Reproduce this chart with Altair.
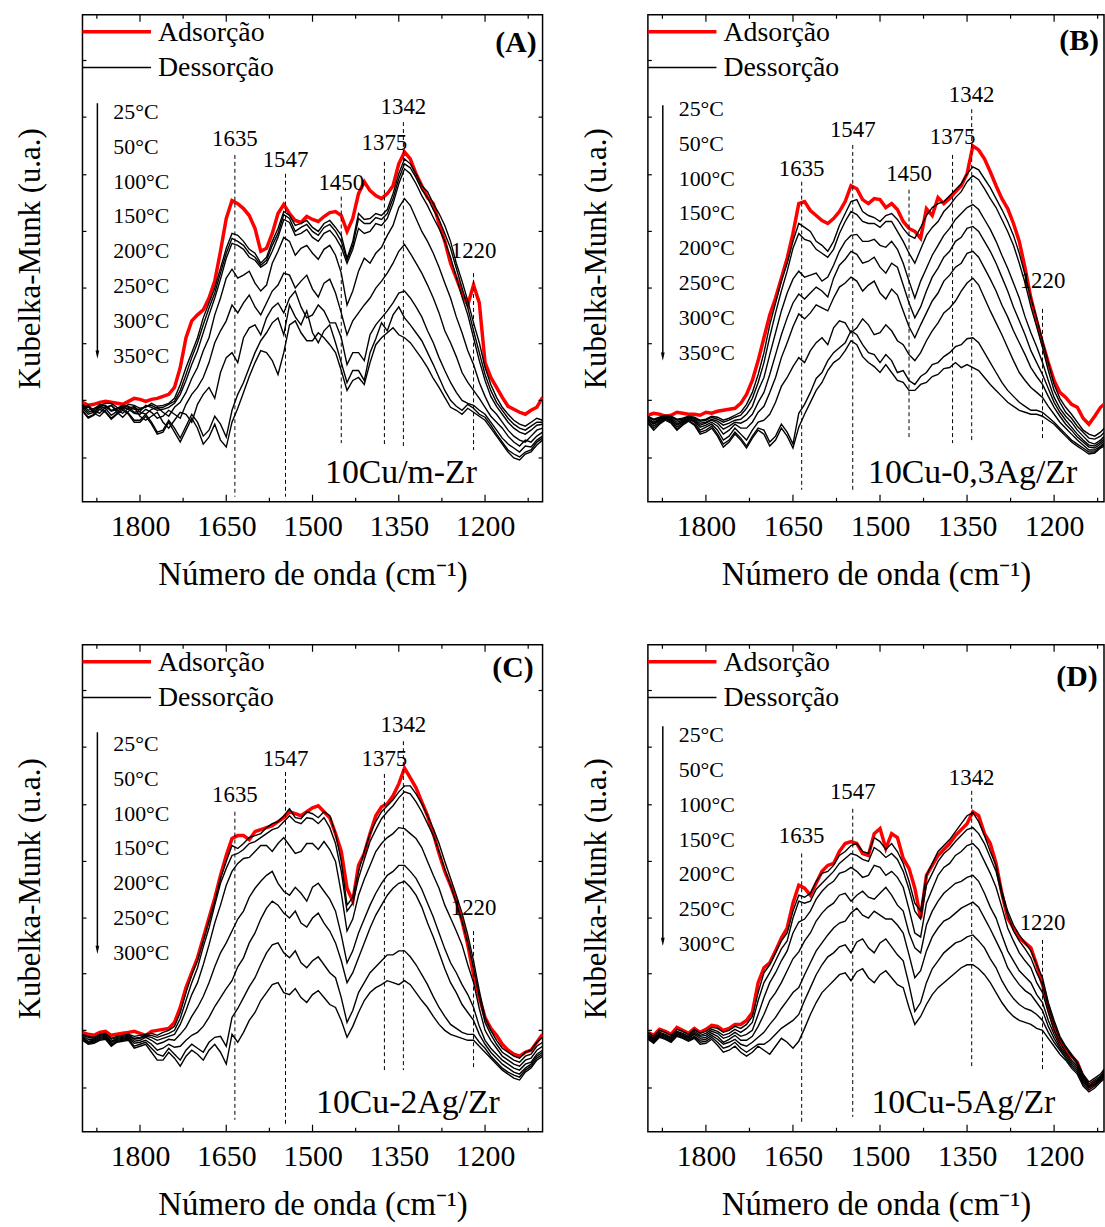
import altair as alt
import pandas as pd

FONT = "Liberation Serif"

# ---- data -------------------------------------------------------------
# Spectra are read every 10 cm-1: the values at 1900, 1880, ... 1100 ("main")
# and the values read in between at 1890, 1870, ... 1110 ("mid").
WN = [1900, 1890, 1880, 1870, 1860, 1850, 1840, 1830, 1820, 1810, 1800, 1790, 1780, 1770,
      1760, 1750, 1740, 1730, 1720, 1710, 1700, 1690, 1680, 1670, 1660, 1650, 1640, 1630,
      1620, 1610, 1600, 1590, 1580, 1570, 1560, 1550, 1540, 1530, 1520, 1510, 1500, 1490,
      1480, 1470, 1460, 1450, 1440, 1430, 1420, 1410, 1400, 1390, 1380, 1370, 1360, 1350,
      1340, 1330, 1320, 1310, 1300, 1290, 1280, 1270, 1260, 1250, 1240, 1230, 1220, 1210,
      1200, 1190, 1180, 1170, 1160, 1150, 1140, 1130, 1120, 1110, 1100]

TEMPS_AB = ["25°C", "50°C", "100°C", "150°C", "200°C", "250°C", "300°C", "350°C"]
TEMPS_CD = ["25°C", "50°C", "100°C", "150°C", "200°C", "250°C", "300°C"]

X_LABELS = [1800, 1650, 1500, 1350, 1200]
X_MINOR = [1875, 1725, 1575, 1425, 1275, 1125]
Y_TICKS = [44, 102, 159, 215, 272, 329, 387, 444]


def spectrum(main, mid):
    assert len(main) == 41 and len(mid) == 40
    out = []
    for i in range(40):
        out += [main[i], mid[i]]
    return out + [main[40]]


# Panel A : 10Cu/m-Zr
A_ADS = spectrum(
    [100, 98, 101, 99, 101, 103, 103, 106, 115, 165, 188, 205, 252, 303, 295, 275, 255, 290, 290, 281, 284,
     287, 292, 272, 310, 313, 305, 318, 352, 330, 306, 280, 240, 210, 218, 140, 115, 96, 90, 92, 105],
    [97, 100, 100, 98, 104, 101, 104, 108, 135, 182, 193, 222, 285, 300, 288, 252, 270, 299, 283, 287,
     282, 291, 288, 285, 322, 308, 310, 340, 345, 318, 300, 262, 225, 198, 200, 125, 105, 93, 88, 95])
A_DES = [
    spectrum([98, 94, 99, 95, 98, 94, 99, 97, 104, 135, 165, 200, 235, 270, 262, 250, 246, 275, 288, 280, 276,
              280, 276, 245, 290, 285, 288, 310, 345, 330, 312, 290, 262, 222, 180, 135, 105, 88, 78, 80, 82],
             [92, 97, 99, 93, 97, 95, 96, 99, 118, 150, 185, 215, 255, 268, 254, 240, 262, 292, 278, 283,
              272, 283, 268, 262, 284, 290, 294, 330, 340, 318, 300, 278, 240, 202, 160, 118, 95, 82, 76, 84]),
    spectrum([97, 93, 97, 94, 96, 93, 97, 95, 101, 128, 160, 195, 230, 265, 258, 246, 243, 270, 285, 276, 272,
              276, 272, 243, 285, 280, 284, 305, 340, 326, 306, 284, 255, 215, 172, 128, 100, 84, 74, 76, 80],
             [95, 96, 92, 97, 93, 96, 94, 98, 112, 145, 178, 210, 250, 262, 250, 238, 258, 289, 272, 279,
              268, 279, 262, 258, 280, 286, 290, 325, 336, 314, 294, 270, 235, 195, 150, 112, 92, 78, 72, 80]),
    spectrum([96, 92, 96, 93, 95, 91, 95, 93, 99, 122, 152, 188, 224, 260, 254, 243, 240, 266, 281, 270, 266,
              270, 266, 240, 275, 272, 278, 300, 335, 320, 298, 275, 246, 206, 165, 122, 96, 80, 70, 72, 78],
             [90, 98, 91, 96, 90, 97, 92, 95, 108, 138, 170, 205, 245, 258, 246, 236, 252, 284, 268, 274,
              262, 273, 256, 254, 270, 280, 285, 320, 330, 308, 286, 262, 226, 188, 142, 106, 88, 74, 68, 77]),
    spectrum([95, 91, 95, 92, 94, 90, 93, 90, 95, 110, 135, 165, 205, 234, 228, 220, 218, 252, 262, 255, 250,
              254, 248, 198, 232, 240, 256, 278, 305, 285, 262, 236, 205, 170, 138, 106, 88, 72, 62, 66, 74],
             [97, 89, 97, 89, 96, 88, 95, 86, 100, 124, 152, 188, 225, 225, 232, 212, 240, 266, 248, 258,
              244, 258, 230, 212, 245, 250, 268, 296, 298, 272, 250, 220, 186, 152, 120, 94, 80, 66, 60, 72]),
    spectrum([94, 90, 94, 91, 93, 88, 90, 86, 88, 98, 115, 140, 172, 198, 200, 196, 200, 218, 228, 222, 214,
              220, 210, 168, 190, 205, 222, 240, 259, 240, 218, 190, 160, 130, 112, 95, 80, 66, 56, 60, 70],
             [88, 96, 87, 95, 89, 93, 84, 92, 84, 108, 125, 160, 182, 190, 208, 188, 212, 230, 215, 228,
              206, 224, 190, 182, 198, 215, 230, 252, 250, 230, 205, 172, 146, 120, 104, 86, 74, 60, 62, 66]),
    spectrum([93, 89, 92, 90, 91, 86, 86, 80, 82, 88, 98, 115, 130, 150, 165, 178, 185, 200, 205, 196, 188,
              192, 180, 138, 150, 168, 185, 200, 212, 196, 172, 145, 120, 102, 97, 88, 72, 58, 50, 55, 66],
             [96, 86, 97, 85, 95, 82, 90, 74, 90, 80, 108, 104, 145, 140, 175, 168, 195, 190, 212, 185,
              198, 180, 165, 150, 142, 178, 192, 210, 205, 186, 160, 132, 110, 99, 92, 80, 64, 54, 56, 62]),
    spectrum([92, 88, 91, 89, 89, 82, 80, 72, 74, 76, 80, 72, 78, 92, 120, 150, 170, 185, 198, 178, 170,
              172, 160, 120, 132, 150, 180, 188, 185, 170, 150, 125, 102, 92, 94, 85, 68, 52, 45, 52, 64],
             [85, 95, 84, 94, 82, 88, 70, 82, 64, 88, 66, 86, 65, 108, 135, 162, 180, 168, 186, 192,
              160, 178, 140, 132, 122, 164, 172, 196, 178, 162, 138, 112, 96, 98, 88, 77, 60, 48, 50, 60]),
    spectrum([91, 87, 90, 88, 88, 80, 78, 70, 70, 72, 74, 65, 62, 80, 110, 140, 150, 128, 178, 170, 162,
              165, 150, 112, 125, 140, 165, 175, 165, 152, 135, 115, 95, 88, 90, 82, 66, 50, 42, 50, 62],
             [84, 93, 83, 92, 80, 86, 68, 80, 60, 84, 58, 78, 55, 94, 126, 152, 142, 150, 182, 162,
              170, 158, 132, 122, 118, 158, 170, 168, 160, 144, 124, 105, 92, 94, 86, 74, 58, 44, 48, 57]),
]
A_PEAKS = [1635, 1547, 1450, 1375, 1342, 1220]
A_PEAK_LABEL = [365, 344, 321, 361, 397, 252]
A_PEAK_TOP = [349, 330, 307, 342, 382, 230]
A_PEAK_BOTTOM = [5, 5, 59, 55, 55, 52]

# Panel B : 10Cu-0,3Ag/Zr
B_ADS = spectrum(
    [87, 88, 87, 89, 88, 90, 91, 93, 99, 122, 165, 205, 245, 300, 293, 283, 285, 302, 315, 300, 304,
     300, 282, 272, 295, 306, 305, 318, 358, 345, 318, 295, 262, 205, 160, 122, 105, 95, 78, 95, 102],
    [89, 86, 90, 88, 87, 89, 92, 94, 108, 142, 188, 225, 270, 302, 288, 280, 292, 318, 304, 305,
     296, 294, 275, 265, 288, 300, 312, 330, 354, 332, 305, 280, 235, 182, 140, 110, 98, 84, 86, 100])
B_DES = [
    spectrum([86, 85, 86, 84, 85, 83, 85, 84, 90, 110, 150, 200, 240, 280, 272, 258, 262, 290, 304, 288, 282,
              290, 275, 265, 288, 300, 308, 320, 337, 325, 305, 282, 250, 205, 162, 118, 95, 80, 68, 70, 80],
             [83, 87, 83, 86, 82, 86, 82, 87, 98, 128, 178, 222, 262, 276, 262, 252, 278, 302, 292, 286,
              288, 284, 268, 276, 296, 302, 314, 330, 334, 316, 294, 268, 228, 185, 140, 104, 88, 72, 66, 76]),
    spectrum([85, 84, 85, 83, 84, 82, 83, 82, 87, 104, 140, 190, 232, 270, 262, 250, 254, 282, 289, 280, 276,
              282, 262, 240, 268, 282, 298, 312, 328, 315, 296, 272, 240, 196, 155, 112, 90, 76, 64, 66, 76],
             [82, 86, 82, 85, 81, 85, 80, 85, 94, 120, 166, 212, 255, 264, 254, 246, 270, 292, 282, 280,
              282, 272, 250, 254, 276, 292, 306, 322, 324, 305, 284, 258, 220, 176, 132, 100, 84, 70, 63, 72]),
    spectrum([84, 83, 84, 82, 83, 80, 81, 79, 83, 96, 125, 170, 210, 232, 228, 222, 238, 262, 269, 262, 258,
              262, 240, 205, 235, 258, 275, 290, 299, 284, 262, 235, 205, 170, 140, 105, 86, 72, 60, 62, 72],
             [80, 85, 80, 84, 79, 83, 77, 82, 88, 112, 148, 192, 224, 226, 230, 226, 252, 268, 262, 264,
              256, 254, 222, 222, 248, 268, 284, 296, 294, 274, 248, 220, 186, 156, 122, 94, 80, 66, 58, 68]),
    spectrum([83, 82, 83, 81, 82, 79, 79, 76, 79, 88, 110, 148, 185, 209, 210, 212, 225, 244, 249, 242, 236,
              240, 218, 185, 212, 235, 252, 266, 277, 262, 240, 212, 182, 152, 128, 100, 82, 68, 57, 60, 70],
             [79, 84, 78, 83, 77, 82, 73, 80, 82, 100, 128, 168, 200, 204, 216, 206, 238, 252, 240, 246,
              230, 236, 200, 196, 226, 246, 262, 275, 272, 252, 226, 196, 168, 140, 114, 90, 75, 62, 56, 65]),
    spectrum([82, 81, 82, 80, 81, 77, 76, 72, 74, 80, 96, 125, 160, 189, 190, 195, 205, 220, 222, 218, 210,
              214, 192, 165, 190, 210, 228, 240, 252, 235, 212, 186, 160, 135, 118, 95, 78, 65, 55, 58, 68],
             [78, 84, 77, 83, 75, 80, 68, 78, 74, 90, 110, 145, 176, 184, 198, 192, 216, 226, 212, 222,
              204, 208, 176, 178, 202, 222, 236, 250, 246, 224, 198, 172, 148, 126, 106, 86, 72, 60, 54, 63]),
    spectrum([81, 80, 81, 79, 80, 75, 72, 66, 68, 72, 82, 100, 125, 145, 152, 165, 175, 180, 175, 178, 170,
              172, 158, 142, 162, 180, 195, 212, 225, 205, 180, 155, 130, 115, 105, 88, 74, 62, 52, 56, 66],
             [76, 84, 75, 83, 72, 78, 62, 74, 62, 80, 88, 116, 136, 140, 160, 158, 182, 170, 184, 168,
              178, 162, 148, 150, 172, 190, 202, 220, 218, 192, 168, 142, 122, 110, 96, 80, 68, 57, 52, 61]),
    spectrum([80, 79, 80, 78, 78, 72, 68, 62, 64, 66, 72, 66, 70, 89, 110, 130, 150, 160, 168, 150, 140,
              142, 132, 118, 130, 140, 150, 158, 165, 150, 130, 112, 100, 92, 90, 80, 68, 58, 50, 55, 64],
             [74, 83, 73, 82, 70, 76, 58, 70, 56, 74, 60, 78, 58, 98, 124, 142, 155, 172, 158, 148,
              148, 130, 122, 126, 138, 146, 156, 164, 160, 140, 120, 106, 96, 92, 85, 74, 62, 54, 50, 59]),
    spectrum([79, 78, 79, 77, 77, 70, 66, 60, 62, 64, 68, 62, 66, 75, 100, 120, 140, 152, 158, 140, 130,
              130, 120, 112, 120, 128, 135, 135, 135, 125, 112, 100, 92, 88, 86, 78, 66, 56, 48, 54, 62],
             [72, 82, 72, 81, 68, 74, 55, 68, 54, 72, 56, 74, 54, 88, 112, 132, 144, 162, 146, 136,
              138, 122, 112, 118, 126, 134, 140, 138, 132, 118, 106, 96, 90, 88, 82, 72, 60, 52, 49, 57]),
]
B_PEAKS = [1635, 1547, 1450, 1375, 1342, 1220]
B_PEAK_LABEL = [335, 374, 330, 367, 409, 222]
B_PEAK_TOP = [322, 359, 314, 349, 395, 194]
B_PEAK_BOTTOM = [12, 12, 64, 59, 59, 62]

# Panel C : 10Cu-2Ag/Zr
C_ADS = spectrum(
    [100, 97, 101, 98, 100, 99, 101, 103, 110, 145, 175, 215, 258, 295, 298, 302, 306, 312, 322, 318, 326,
     322, 300, 245, 268, 300, 327, 338, 366, 346, 318, 280, 248, 212, 158, 115, 97, 82, 76, 82, 98],
    [98, 100, 97, 99, 101, 97, 102, 104, 125, 160, 195, 235, 278, 298, 294, 304, 308, 316, 320, 322,
     328, 316, 282, 232, 280, 318, 330, 350, 356, 332, 300, 262, 232, 188, 135, 104, 88, 78, 80, 90])
C_DES = [
    spectrum([98, 95, 99, 96, 98, 97, 99, 100, 106, 140, 172, 212, 255, 288, 290, 298, 306, 312, 325, 315, 320,
              322, 300, 228, 262, 300, 322, 334, 348, 340, 318, 290, 255, 220, 172, 115, 92, 80, 74, 82, 95],
             [96, 98, 94, 97, 96, 98, 97, 102, 120, 158, 192, 232, 272, 285, 296, 300, 310, 318, 316, 322,
              316, 318, 272, 236, 282, 312, 328, 342, 348, 330, 305, 272, 238, 198, 142, 102, 84, 76, 80, 90]),
    spectrum([97, 94, 98, 95, 97, 95, 97, 97, 102, 132, 165, 205, 250, 278, 284, 292, 300, 306, 318, 310, 315,
              316, 290, 222, 255, 292, 315, 328, 342, 332, 310, 282, 248, 212, 165, 110, 88, 76, 70, 78, 90],
             [95, 97, 93, 96, 94, 97, 95, 99, 114, 150, 186, 228, 265, 280, 290, 296, 304, 312, 312, 316,
              310, 306, 262, 230, 274, 304, 322, 336, 340, 322, 298, 264, 230, 190, 136, 98, 80, 72, 76, 86]),
    spectrum([96, 93, 97, 94, 96, 94, 95, 94, 98, 122, 150, 188, 228, 262, 275, 282, 288, 290, 288, 282, 290,
              292, 272, 202, 238, 268, 290, 300, 305, 295, 272, 245, 215, 188, 150, 102, 84, 72, 66, 74, 86],
             [93, 96, 91, 95, 93, 96, 92, 96, 108, 138, 168, 210, 248, 270, 276, 288, 282, 296, 280, 290,
              284, 284, 240, 214, 254, 282, 296, 306, 300, 286, 258, 228, 202, 168, 124, 92, 76, 68, 72, 82]),
    spectrum([95, 92, 96, 93, 95, 92, 92, 90, 92, 105, 125, 150, 180, 202, 222, 245, 258, 250, 238, 240, 246,
              242, 222, 170, 200, 228, 250, 262, 268, 255, 230, 200, 170, 148, 125, 92, 78, 68, 62, 70, 82],
             [91, 95, 90, 94, 91, 95, 88, 93, 98, 116, 136, 166, 190, 214, 236, 252, 262, 242, 246, 232,
              250, 234, 198, 182, 214, 240, 258, 268, 262, 244, 216, 184, 160, 138, 106, 84, 72, 64, 68, 78]),
    spectrum([94, 91, 95, 92, 94, 90, 88, 84, 85, 92, 100, 115, 135, 152, 175, 200, 225, 228, 215, 210, 215,
              210, 190, 150, 175, 205, 228, 245, 252, 238, 210, 180, 150, 128, 112, 88, 74, 64, 58, 68, 80],
             [90, 94, 88, 93, 89, 92, 82, 88, 86, 97, 106, 126, 144, 166, 190, 214, 232, 220, 222, 206,
              220, 202, 172, 160, 190, 218, 238, 250, 246, 226, 196, 164, 140, 120, 98, 80, 68, 60, 64, 76]),
    spectrum([93, 90, 94, 91, 93, 88, 84, 76, 78, 82, 84, 90, 96, 115, 135, 155, 180, 190, 175, 170, 172,
              168, 155, 110, 140, 160, 172, 178, 182, 168, 148, 125, 108, 100, 98, 84, 70, 60, 55, 66, 78],
             [89, 93, 87, 92, 86, 90, 78, 84, 72, 88, 80, 95, 86, 124, 146, 168, 188, 180, 182, 165,
              176, 160, 135, 122, 150, 166, 178, 182, 176, 158, 136, 116, 104, 98, 90, 76, 64, 57, 62, 74]),
    spectrum([92, 89, 93, 90, 92, 86, 80, 72, 74, 76, 78, 82, 80, 98, 100, 120, 140, 150, 138, 135, 138,
              135, 125, 95, 120, 140, 148, 150, 152, 140, 125, 108, 98, 94, 92, 80, 68, 58, 52, 64, 76],
             [88, 92, 86, 91, 84, 88, 72, 80, 66, 82, 72, 88, 68, 90, 112, 132, 148, 140, 144, 130,
              142, 128, 112, 106, 132, 145, 152, 148, 148, 132, 116, 102, 96, 92, 86, 74, 62, 54, 60, 72]),
]
C_PEAKS = [1635, 1547, 1375, 1342, 1220]
C_PEAK_LABEL = [339, 375, 375, 409, 225]
C_PEAK_TOP = [322, 362, 360, 393, 202]
C_PEAK_BOTTOM = [12, 5, 62, 62, 62]

# Panel D : 10Cu-5Ag/Zr
D_ADS = spectrum(
    [100, 103, 98, 102, 104, 103, 106, 104, 108, 120, 165, 182, 205, 248, 238, 262, 270, 290, 290, 278, 305,
     300, 275, 245, 258, 278, 290, 304, 322, 300, 270, 215, 195, 185, 148, 105, 82, 70, 45, 52, 72],
    [97, 101, 105, 99, 100, 107, 102, 108, 112, 150, 170, 195, 230, 245, 250, 268, 282, 292, 280, 300,
     285, 296, 265, 215, 268, 284, 298, 310, 318, 290, 240, 205, 190, 168, 125, 90, 76, 55, 50, 62])
D_DES = [
    spectrum([100, 102, 97, 101, 103, 101, 104, 102, 104, 116, 160, 180, 200, 238, 240, 260, 268, 282, 290, 280, 292,
              290, 270, 230, 258, 282, 294, 310, 321, 298, 268, 222, 198, 182, 155, 112, 86, 70, 50, 58, 72],
             [96, 100, 103, 98, 99, 105, 100, 106, 108, 140, 168, 192, 222, 236, 252, 262, 278, 288, 282, 296,
              284, 282, 252, 222, 270, 288, 302, 318, 312, 282, 242, 208, 190, 168, 130, 96, 78, 58, 54, 66]),
    spectrum([98, 100, 95, 99, 101, 99, 101, 99, 100, 110, 150, 172, 192, 232, 232, 250, 262, 275, 278, 272, 282,
              280, 262, 222, 248, 272, 285, 298, 306, 290, 262, 218, 192, 175, 148, 108, 84, 68, 48, 56, 70],
             [94, 98, 101, 96, 97, 103, 97, 103, 104, 132, 160, 184, 215, 230, 244, 256, 270, 280, 274, 286,
              276, 274, 244, 214, 260, 280, 292, 304, 300, 276, 238, 202, 184, 160, 126, 94, 76, 56, 52, 64]),
    spectrum([97, 99, 94, 98, 99, 97, 99, 96, 96, 102, 135, 160, 182, 211, 222, 242, 252, 262, 262, 258, 266,
              262, 246, 200, 230, 258, 270, 282, 290, 272, 246, 205, 180, 165, 140, 102, 80, 66, 46, 55, 68],
             [93, 97, 100, 95, 96, 101, 94, 100, 98, 118, 150, 172, 200, 214, 234, 248, 260, 266, 256, 268,
              258, 256, 224, 196, 244, 266, 278, 288, 284, 260, 226, 192, 172, 150, 120, 90, 72, 54, 50, 62]),
    spectrum([96, 98, 93, 97, 98, 95, 96, 93, 92, 96, 118, 140, 162, 181, 200, 220, 230, 240, 238, 236, 240,
              238, 222, 185, 208, 232, 245, 252, 258, 240, 215, 182, 162, 150, 130, 98, 78, 64, 45, 54, 66],
             [92, 96, 99, 94, 94, 99, 90, 97, 92, 106, 132, 150, 174, 192, 212, 226, 238, 232, 242, 234,
              246, 228, 200, 180, 222, 240, 250, 256, 252, 226, 198, 172, 156, 138, 112, 86, 70, 52, 48, 60]),
    spectrum([95, 97, 92, 96, 96, 93, 93, 90, 88, 90, 100, 115, 132, 145, 170, 190, 205, 212, 225, 215, 218,
              214, 200, 155, 182, 205, 215, 225, 231, 215, 192, 165, 148, 138, 122, 94, 76, 62, 44, 53, 64],
             [91, 95, 98, 93, 92, 97, 88, 93, 86, 95, 108, 124, 140, 158, 182, 198, 210, 220, 218, 222,
              214, 208, 178, 162, 196, 212, 220, 228, 226, 204, 180, 156, 142, 130, 106, 84, 68, 50, 47, 58]),
    spectrum([94, 96, 91, 95, 95, 91, 90, 86, 84, 84, 88, 98, 108, 118, 145, 168, 180, 188, 191, 185, 190,
              186, 172, 121, 150, 172, 185, 192, 198, 185, 165, 142, 128, 122, 112, 90, 74, 60, 42, 52, 62],
             [90, 94, 97, 92, 90, 95, 84, 90, 80, 88, 92, 104, 112, 132, 158, 176, 186, 180, 194, 180,
              194, 178, 148, 130, 164, 180, 190, 196, 192, 174, 152, 134, 124, 118, 100, 82, 66, 48, 46, 57]),
    spectrum([93, 95, 90, 94, 94, 89, 87, 82, 80, 80, 82, 86, 90, 91, 118, 140, 152, 160, 161, 155, 158,
              155, 145, 108, 128, 145, 155, 165, 168, 158, 140, 122, 112, 108, 102, 86, 72, 58, 40, 50, 60],
             [89, 93, 96, 91, 88, 93, 80, 86, 76, 86, 78, 94, 84, 104, 130, 146, 158, 152, 164, 150,
              162, 148, 125, 116, 138, 150, 160, 168, 164, 150, 130, 116, 110, 104, 94, 78, 64, 46, 44, 55]),
]
D_PEAKS = [1635, 1547, 1342, 1220]
D_PEAK_LABEL = [298, 342, 356, 210]
D_PEAK_TOP = [280, 325, 343, 193]
D_PEAK_BOTTOM = [8, 15, 65, 61]

# ---- layout constants -------------------------------------------------
H = 490
W_LEFT = 463
W_RIGHT = 459
RED = "#ff0000"

AX_X = alt.Axis(values=X_LABELS, format="d", title="Número de onda (cm⁻¹)",
                ticks=False, domain=False, grid=False, labelPadding=10,
                titlePadding=17, labelFontSize=30, titleFontSize=33)
AX_Y = alt.Axis(title="Kubelka-Munk (u.a.)", labels=False, ticks=False,
                domain=False, grid=False, titlePadding=36, titleFontSize=31)


def panel(ads, des, temps, peaks, p_lab, p_top, p_bot, sample, letter,
          width, xmin, sample_x, letter_x, letter_align, letter_y,
          temp_y0, arrow_top, arrow_bot, right_ticks=True):
    xs = alt.Scale(domain=[xmin, 1900], reverse=True, nice=False, zero=False)
    ys = alt.Scale(domain=[0, H], nice=False, zero=False)
    one = pd.DataFrame({"k": [0]})

    ads_df = pd.DataFrame({"wn": WN, "ka": ads})
    des_df = pd.DataFrame([{"wn": w, "ka": v, "curva": t}
                           for t, curve in zip(temps, des) for w, v in zip(WN, curve)])
    pk = pd.DataFrame({"pico": peaks, "rotulo": [str(p) for p in peaks],
                       "ly": p_lab, "top": p_top, "bot": p_bot})
    maj = pd.DataFrame({"t": X_LABELS})
    mnr = pd.DataFrame({"t": X_MINOR})
    yt = pd.DataFrame({"t": Y_TICKS})

    def xn(f):
        return alt.X(f, scale=xs, axis=AX_X)

    def yn(f):
        return alt.Y(f, scale=ys, axis=AX_Y)

    red = alt.Chart(ads_df).mark_line(color=RED, strokeWidth=3.5, clip=True).encode(
        x=xn("wn:Q"), y=yn("ka:Q"))
    black = alt.Chart(des_df).mark_line(color="black", strokeWidth=1.4, clip=True).encode(
        x=xn("wn:Q"), y=yn("ka:Q"), detail="curva:N")

    dash = alt.Chart(pk).mark_rule(color="black", strokeWidth=1, strokeDash=[4, 3]).encode(
        x=xn("pico:Q"), y=yn("top:Q"), y2="bot:Q")
    plab = alt.Chart(pk).mark_text(fontSize=23, align="center", baseline="middle",
                                   color="black").encode(
        x=xn("pico:Q"), y=yn("ly:Q"), text="rotulo:N")

    tb_maj = alt.Chart(maj).mark_rule(color="black", strokeWidth=1.2).encode(
        x=xn("t:Q"), y=alt.value(H), y2=alt.value(H - 7))
    tt_maj = alt.Chart(maj).mark_rule(color="black", strokeWidth=1.2).encode(
        x=xn("t:Q"), y=alt.value(0), y2=alt.value(7))
    tb_min = alt.Chart(mnr).mark_rule(color="black", strokeWidth=1.2).encode(
        x=xn("t:Q"), y=alt.value(H), y2=alt.value(H - 4))
    tt_min = alt.Chart(mnr).mark_rule(color="black", strokeWidth=1.2).encode(
        x=xn("t:Q"), y=alt.value(0), y2=alt.value(4))
    tl = alt.Chart(yt).mark_rule(color="black", strokeWidth=1.2).encode(
        y=yn("t:Q"), x=alt.value(0), x2=alt.value(4))
    layers = [red, black, dash, plab, tb_maj, tt_maj, tb_min, tt_min, tl]
    if right_ticks:
        tr = alt.Chart(yt).mark_rule(color="black", strokeWidth=1.2).encode(
            y=yn("t:Q"), x=alt.value(width - 4), x2=alt.value(width))
        layers.append(tr)

    leg_r = alt.Chart(one).mark_rule(color=RED, strokeWidth=3.5).encode(
        x=alt.value(0), x2=alt.value(69), y=alt.value(17))
    leg_b = alt.Chart(one).mark_rule(color="black", strokeWidth=1.4).encode(
        x=alt.value(0), x2=alt.value(69), y=alt.value(53))
    leg_t1 = alt.Chart(one).mark_text(fontSize=28, align="left", baseline="middle",
                                      color="black").encode(
        x=alt.value(76), y=alt.value(18), text=alt.value("Adsorção"))
    leg_t2 = alt.Chart(one).mark_text(fontSize=28, align="left", baseline="middle",
                                      color="black").encode(
        x=alt.value(76), y=alt.value(54), text=alt.value("Dessorção"))

    arrow = alt.Chart(one).mark_rule(color="black", strokeWidth=1.5).encode(
        x=alt.value(15), y=alt.value(arrow_top), y2=alt.value(arrow_bot - 8))
    head = alt.Chart(one).mark_point(shape="M-0.45,-1L0.45,-1L0,1Z", filled=True,
                                     color="black", opacity=1, size=70).encode(
        x=alt.value(15), y=alt.value(arrow_bot - 6))
    temp_txt = alt.Chart(one).mark_text(fontSize=22, align="left", baseline="top",
                                        lineHeight=35, color="black").encode(
        x=alt.value(31), y=alt.value(temp_y0 - 11), text=alt.value(temps))

    samp = alt.Chart(one).mark_text(fontSize=34, align="right", baseline="alphabetic",
                                    color="black").encode(
        x=alt.value(sample_x), y=alt.value(H - 19), text=alt.value(sample))
    let = alt.Chart(one).mark_text(fontSize=30, fontWeight="bold", align=letter_align,
                                   baseline="middle", color="black", clip=True).encode(
        x=alt.value(letter_x), y=alt.value(letter_y), text=alt.value(letter))

    layers += [leg_r, leg_b, leg_t1, leg_t2, arrow, head, temp_txt, samp, let]
    return alt.layer(*layers).properties(width=width, height=H)


pA = panel(A_ADS, A_DES, TEMPS_AB, A_PEAKS, A_PEAK_LABEL, A_PEAK_TOP, A_PEAK_BOTTOM,
           "10Cu/m-Zr", "(A)", W_LEFT, 1100, 397, W_LEFT - 6, "right", 28,
           99, 89, 348)
pB = panel(B_ADS, B_DES, TEMPS_AB, B_PEAKS, B_PEAK_LABEL, B_PEAK_TOP, B_PEAK_BOTTOM,
           "10Cu-0,3Ag/Zr", "(B)", W_RIGHT, 1114, 432, 414, "left", 26,
           96, 91, 350, right_ticks=False)
pC = panel(C_ADS, C_DES, TEMPS_CD, C_PEAKS, C_PEAK_LABEL, C_PEAK_TOP, C_PEAK_BOTTOM,
           "10Cu-2Ag/Zr", "(C)", W_LEFT, 1100, 420, W_LEFT - 9, "right", 23,
           101, 88, 313)
pD = panel(D_ADS, D_DES, TEMPS_CD, D_PEAKS, D_PEAK_LABEL, D_PEAK_TOP, D_PEAK_BOTTOM,
           "10Cu-5Ag/Zr", "(D)", W_RIGHT, 1114, 410, 411, "left", 32,
           92, 82, 305, right_ticks=False)

chart = alt.vconcat(
    alt.hconcat(pA, pB, spacing=35),
    alt.hconcat(pC, pD, spacing=35),
    spacing=51,
).properties(
    padding={"left": 14, "top": 9, "right": 0, "bottom": 0},
    background="white",
).configure_view(
    stroke="black", strokeWidth=1.5
).configure_axis(
    labelFont=FONT, titleFont=FONT, labelColor="black", titleColor="black",
    titleFontWeight="normal"
).configure_text(font=FONT)

chart.save("out.html", embed_options={"renderer": "svg", "actions": False})
